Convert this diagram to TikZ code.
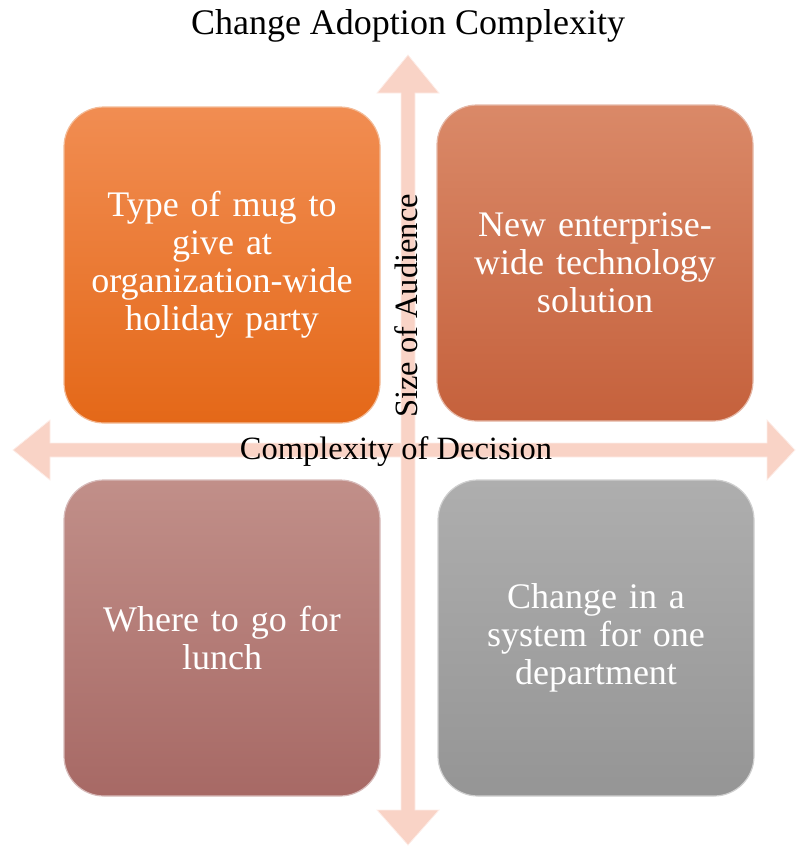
\documentclass[tikz,border=0pt]{standalone}
\usepackage{fontspec}
\setmainfont{Liberation Serif}
\newfontfamily\boxfont[WordSpace=0.8]{Liberation Serif}
\definecolor{arrowfill}{RGB}{249,211,198}
\definecolor{orTop}{RGB}{241,141,82}
\definecolor{orBot}{RGB}{228,104,24}
\definecolor{trTop}{RGB}{218,137,104}
\definecolor{trBot}{RGB}{197,97,60}
\definecolor{rsTop}{RGB}{193,143,137}
\definecolor{rsBot}{RGB}{167,105,101}
\definecolor{gyTop}{RGB}{174,174,174}
\definecolor{gyBot}{RGB}{149,149,149}
\tikzset{
  quadbox/.style={rounded corners=40pt, minimum width=316pt, minimum height=316pt,
    text width=290pt, align=center, text=white, font=\boxfont\fontsize{36}{38}\selectfont,
    draw=white!55!#1, line width=1.2pt},
  axislabel/.style={font=\fontsize{32.5}{34}\selectfont, text=black, inner sep=0pt},
  axisarrow/.style={fill=arrowfill, draw=white!60!arrowfill, line width=0.8pt}
}
\begin{document}
\begin{tikzpicture}[x=1pt,y=-1pt]
\useasboundingbox (0,0) rectangle (796,846);
% coordinates of arrows
\coordinate (vtop) at (408,55);
\coordinate (vbot) at (408,845);
\coordinate (hleft) at (13,450);
\coordinate (hright) at (795,450);
% horizontal arrow
\path[axisarrow] (hleft) -- (50,420) -- (50,443) -- (767,443) -- (767,420) -- (hright)
  -- (767,480) -- (767,457) -- (50,457) -- (50,480) -- cycle;
% vertical arrow
\path[axisarrow] (vtop) -- (439,93) -- (415,93) -- (415,810) -- (439,810) -- (vbot)
  -- (377,810) -- (401,810) -- (401,93) -- (377,93) -- cycle;
% boxes
\node[quadbox=orBot, top color=orTop, bottom color=orBot] (tl) at (222,265)
  {Type of mug to\\ give at\\ organization-wide\\ holiday party};
\node[quadbox=trBot, top color=trTop, bottom color=trBot] (tr) at (595,263)
  {New enterprise-\\ wide technology\\ solution};
\node[quadbox=rsBot, top color=rsTop, bottom color=rsBot] (bl) at (222,638)
  {Where to go for\\ lunch};
\node[quadbox=gyBot, top color=gyTop, bottom color=gyBot] (br) at (596,638)
  {Change in a\\ system for one\\ department};
% labels
\node[font=\fontsize{36}{38}\selectfont, inner sep=0pt] (title) at (408,26) {Change Adoption Complexity};
\node[axislabel, rotate=90] (ylab) at (406,306) {Size of Audience};
\node[axislabel] (xlab) at (396,452) {Complexity of Decision};
\end{tikzpicture}
\end{document}
